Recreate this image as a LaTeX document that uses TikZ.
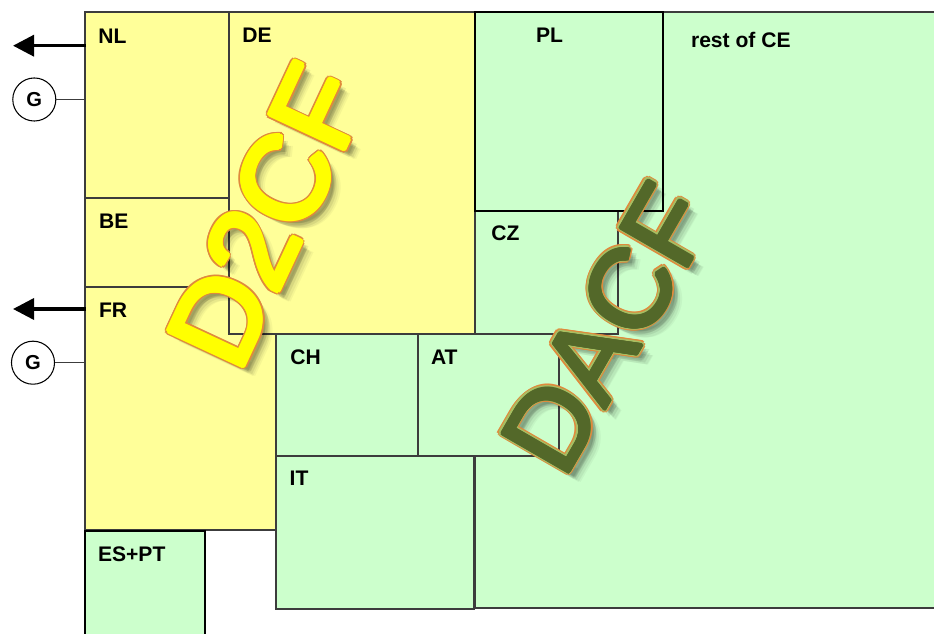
\documentclass[tikz,border=0pt]{standalone}
\usepackage{fontspec}
\setmainfont{Liberation Sans}
\usetikzlibrary{arrows.meta}
\definecolor{yel}{HTML}{FFFF99}
\definecolor{grn}{HTML}{CCFFCC}
\definecolor{edgec}{HTML}{3C3C3C}
\definecolor{wordyel}{HTML}{FFFF00}
\definecolor{wordorange}{HTML}{E08A3C}
\definecolor{olivedark}{HTML}{536829}
\definecolor{olivelight}{HTML}{A8BE62}
\begin{document}
\begin{tikzpicture}[x=0.02cm,y=-0.02cm,
  region/.style={draw=edgec,line width=0.6pt},
  yregion/.style={region,fill=yel},
  gregion/.style={region,fill=grn},
  thickbox/.style={draw=black,line width=1.5pt,fill=grn},
  lbl/.style={anchor=base west,inner sep=0pt,font=\fontsize{12}{14}\selectfont\bfseries},
  gen/.style={circle,draw=black,line width=0.6pt,fill=white,minimum size=24.5pt,inner sep=0pt,font=\fontsize{11.5}{13}\selectfont\bfseries},
  flow/.style={line width=2pt,-{Triangle[length=12pt,width=12pt]}},
  tie/.style={draw=edgec,line width=0.6pt},
  artA/.style={inner sep=0pt,rotate=65,font=\fontsize{68}{70}\selectfont},
  artB/.style={inner sep=0pt,rotate=60,font=\fontsize{64}{66}\selectfont}
]
\useasboundingbox (0,0) rectangle (934,634);

% yellow regions
\path[yregion] (85,12) rectangle (229,198);
\path[yregion] (85,198) rectangle (229,287);
\path[yregion] (85,287) rectangle (276,530);
\path[yregion] (229,12) rectangle (475,334);

% green regions
\path[gregion] (475,12) rectangle (934.3,608);
\path[gregion] (475,211) rectangle (618,334);
\path[gregion] (276,334) rectangle (418,456);
\path[gregion] (418,334) rectangle (559,456);
\path[gregion] (276,456) rectangle (474,609);
\path[thickbox] (475,12) rectangle (663,211);
\path[thickbox] (85,531) rectangle (205,645);

% labels
\node[lbl] (nl) at (98,43.3) {NL};
\node[lbl] (de) at (242,42.3) {DE};
\node[lbl] (be) at (98.7,229) {BE};
\node[lbl] (fr) at (98.7,318) {FR};
\node[lbl] (pl) at (535.7,42.3) {PL};
\node[lbl] (rest) at (690.7,47.3) {rest of CE};
\node[lbl] (cz) at (491,241) {CZ};
\node[lbl] (ch) at (290,364.3) {CH};
\node[lbl] (at) at (430.7,364.3) {AT};
\node[lbl] (it) at (289.3,486) {IT};
\node[lbl] (es) at (97.7,561.7) {ES+PT};

% exports and generators
\coordinate (nlw) at (86,45.7);
\coordinate (nlout) at (13,45.7);
\coordinate (frw) at (86,309);
\coordinate (frout) at (13,309);
\draw[flow] (nlw) -- (nlout);
\draw[flow] (frw) -- (frout);

\node[gen] (g1) at (34.3,99.5) {G};
\node[gen] (g2) at (33,362.7) {G};
\coordinate (g1t) at (85,99.5);
\coordinate (g2t) at (85,362.7);
\draw[tie] (g1) -- (g1t);
\draw[tie] (g2) -- (g2t);

% D2CF word art
\foreach \dx/\dy/\op [count=\i] in {3/-3/0.09,4/-4/0.08,5/-5/0.07,4.5/-3/0.07,3/-4.5/0.07,6/-6/0.05,7/-6/0.04}
  \node[artA,text=black,text opacity=\op] (d2cfs\i) at ([shift={(\dx pt,\dy pt)}]268,216) {D2CF};
\foreach \a [count=\i] in {0,22.5,...,340}
  \node[artA,text=wordorange] (d2cfo\i) at ([shift={(\a:2.3pt)}]268,216) {D2CF};
\foreach \a [count=\i] in {0,30,...,330}
  \node[artA,text=wordyel] (d2cfy\i) at ([shift={(\a:1.5pt)}]268,216) {D2CF};
\node[artA,text=wordyel] (d2cf) at (268,216) {D2CF};

% DACF word art
\foreach \dx/\dy/\op [count=\i] in {3/-3/0.09,4/-4/0.08,5/-5/0.07,4.5/-3/0.07,3/-4.5/0.07,6/-6/0.05,7/-6/0.04}
  \node[artB,text=black,text opacity=\op] (dacfs\i) at ([shift={(\dx pt,\dy pt)}]607,328) {DACF};
\foreach \a [count=\i] in {0,22.5,...,340}
  \node[artB,text=wordorange] (dacfo\i) at ([shift={(\a:2.3pt)}]607,328) {DACF};
\foreach \a [count=\i] in {0,30,...,330}
  \node[artB,text=olivelight] (dacfl\i) at ([shift={(\a:1.6pt)}]607,328) {DACF};
\foreach \a [count=\i] in {0,30,...,330}
  \node[artB,text=olivedark] (dacfd\i) at ([shift={(\a:0.9pt)}]607.6,328.6) {DACF};
\node[artB,text=olivedark] (dacf) at (607.6,328.6) {DACF};
\end{tikzpicture}
\end{document}
